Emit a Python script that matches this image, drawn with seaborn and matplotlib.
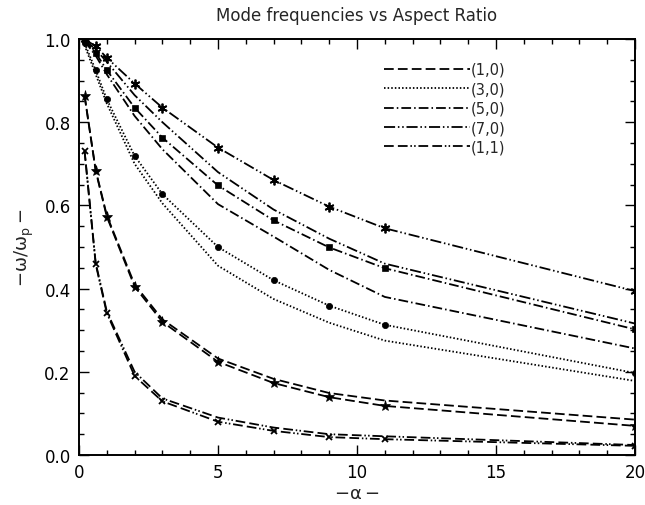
import numpy as np
import pandas as pd
import matplotlib
matplotlib.use("Agg")
import matplotlib.pyplot as plt
from matplotlib.lines import Line2D
import seaborn as sns

# ---- data ----
alpha = [0.2, 0.6, 1, 2, 3, 5, 7, 9, 11, 20]
modes = ["(1,0)", "(3,0)", "(5,0)", "(7,0)", "(1,1)"]

# curves with markers
marked_10 = [0.863, 0.683, 0.573, 0.405, 0.320, 0.224, 0.173, 0.139, 0.118, 0.070]
marked_30 = [0.990, 0.925, 0.855, 0.719, 0.627, 0.500, 0.420, 0.359, 0.313, 0.197]
marked_50 = [0.997, 0.967, 0.925, 0.835, 0.763, 0.648, 0.564, 0.499, 0.449, 0.302]
marked_70 = [0.999, 0.983, 0.955, 0.893, 0.835, 0.739, 0.661, 0.597, 0.545, 0.394]
marked_11 = [0.730, 0.459, 0.341, 0.190, 0.129, 0.080, 0.058, 0.043, 0.038, 0.022]

# curves without markers
plain_10 = [0.865, 0.685, 0.576, 0.410, 0.326, 0.232, 0.183, 0.149, 0.131, 0.085]
plain_30 = [0.985, 0.915, 0.845, 0.700, 0.605, 0.455, 0.375, 0.318, 0.275, 0.178]
plain_50 = [0.995, 0.960, 0.915, 0.815, 0.735, 0.603, 0.525, 0.445, 0.380, 0.256]
plain_70 = [0.998, 0.975, 0.945, 0.865, 0.800, 0.680, 0.590, 0.520, 0.460, 0.316]
plain_11 = [0.732, 0.462, 0.345, 0.200, 0.136, 0.090, 0.066, 0.050, 0.045, 0.024]

x_ticks = [0, 5, 10, 15, 20]
y_ticks = [0.0, 0.2, 0.4, 0.6, 0.8, 1.0]

# ---- styles ----
dash_styles = {
    "(1,0)": (0, (7, 3)),
    "(3,0)": (0, (1.1, 1.5)),
    "(5,0)": (0, (7, 2.2, 1.1, 2.2)),
    "(7,0)": (0, (8, 2, 1.1, 2, 1.1, 2)),
    "(1,1)": (0, (7, 3, 7, 2, 1.1, 1.6, 1.1, 2)),
}
marker_styles = {
    "(1,0)": dict(marker="*", ms=8, mew=0.5),
    "(3,0)": dict(marker="o", ms=4.5, mew=0.5),
    "(5,0)": dict(marker="s", ms=5, mew=0.5),
    "(7,0)": dict(marker=(6, 2, 0), ms=7, mew=1.3),
    "(1,1)": dict(marker="x", ms=5, mew=1.3),
}
marked = dict(zip(modes, [marked_10, marked_30, marked_50, marked_70, marked_11]))
plain = dict(zip(modes, [plain_10, plain_30, plain_50, plain_70, plain_11]))

sns.set_style("ticks")
plt.rcParams["font.family"] = ["DejaVu Sans"]
plt.rcParams["mathtext.fontset"] = "dejavusans"
plt.rcParams["lines.scale_dashes"] = False

fig = plt.figure(figsize=(6.45, 5.06), dpi=100)
ax = fig.add_axes([79 / 645, 1 - 456 / 506, 556 / 645, 416 / 506])

lw = 1.3
for m in modes:
    df_m = pd.DataFrame({"alpha": alpha, "omega": marked[m]})
    sns.lineplot(data=df_m, x="alpha", y="omega", ax=ax, color="black",
                 linewidth=lw, linestyle=dash_styles[m], markeredgecolor="black",
                 markerfacecolor="black", **marker_styles[m])
    df_p = pd.DataFrame({"alpha": alpha, "omega": plain[m]})
    sns.lineplot(data=df_p, x="alpha", y="omega", ax=ax, color="black",
                 linewidth=lw, linestyle=dash_styles[m])

ax.set_xlim(0, 20)
ax.set_ylim(0, 1.0)
ax.set_xticks(x_ticks)
ax.set_xticklabels([str(v) for v in x_ticks])
ax.set_yticks(y_ticks)
ax.set_yticklabels([f"{v:.1f}" for v in y_ticks])
ax.xaxis.set_minor_locator(matplotlib.ticker.MultipleLocator(1))
ax.yaxis.set_minor_locator(matplotlib.ticker.MultipleLocator(0.05))
ax.tick_params(which="both", direction="in", top=True, right=True,
               colors="black", labelsize=12, width=1.0)
ax.tick_params(which="major", length=7, pad=6)
ax.tick_params(which="minor", length=3.5)
for s in ax.spines.values():
    s.set_color("black")
    s.set_linewidth(1.4)

ax.set_xlabel(r"$-\mathrm{\alpha}-$", fontsize=13, labelpad=2)
ax.set_ylabel(r"$-\mathrm{\omega/\omega_p}-$", fontsize=13, labelpad=6)
ax.set_title("Mode frequencies vs Aspect Ratio", fontsize=12, pad=14)

handles = [Line2D([0], [0], color="black", lw=lw, linestyle=dash_styles[m]) for m in modes]
ax.legend(handles, modes, loc="upper left", bbox_to_anchor=(0.548, 0.945),
          frameon=False, handlelength=5.9, handletextpad=0.1, labelspacing=0.3,
          borderpad=0, borderaxespad=0, fontsize=10.5)

fig.savefig("out.png", dpi=100)
